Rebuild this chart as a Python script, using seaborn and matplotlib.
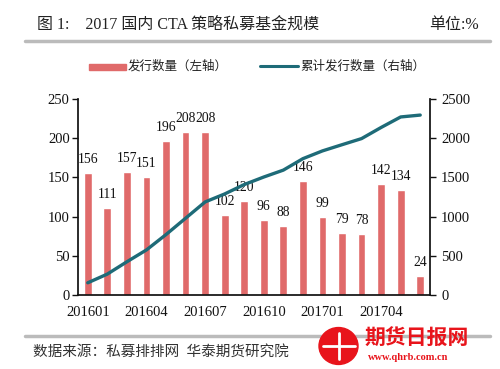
import numpy as np
import pandas as pd
import matplotlib
matplotlib.use("Agg")
import matplotlib.pyplot as plt
import seaborn as sns
from matplotlib.patches import Ellipse, Rectangle

months = ["201601", "201602", "201603", "201604", "201605", "201606",
          "201607", "201608", "201609", "201610", "201611", "201612",
          "201701", "201702", "201703", "201704", "201705", "201706"]
issued = [156, 111, 157, 151, 196, 208, 208, 102, 120, 96, 88, 146,
          99, 79, 78, 142, 134, 24]
cumulative = [156, 267, 424, 575, 771, 979, 1187, 1289, 1409, 1505, 1593,
              1739, 1838, 1917, 1995, 2137, 2271, 2295]
tick_labels = ["201601", "201604", "201607", "201610", "201701", "201704"]
left_ticks = [0, 50, 100, 150, 200, 250]
right_ticks = [0, 500, 1000, 1500, 2000, 2500]

sns.set_theme(style="white")
FAM = ["Liberation Serif", "Noto Sans CJK SC", "DejaVu Sans"]
plt.rcParams["font.family"] = FAM

bar_color = "#E06A6A"
line_color = "#1E6B78"

df = pd.DataFrame({"month": months, "issued": issued,
                   "pos": np.arange(len(months)), "cum": cumulative})

fig = plt.figure(figsize=(5.0, 3.69), dpi=100)
ax = fig.add_axes([0.156, 0.2005, 0.704, 0.5312])

sns.barplot(data=df, x="month", y="issued", color=bar_color, width=0.4,
            saturation=1, ax=ax)
for c in ax.containers:
    ax.bar_label(c, labels=[str(v) for v in issued], padding=5,
                 fontsize=9.8, color="#111111")

ax.set_ylim(0, 250)
ax.set_yticks(left_ticks)
ax.set_xlim(-0.5, len(months) - 0.5)
ax.set_xticks([months.index(t) for t in tick_labels])
ax.set_xticklabels(tick_labels)
ax.set_xlabel("")
ax.set_ylabel("")

ax2 = ax.twinx()
sns.lineplot(data=df, x="pos", y="cum", color=line_color, linewidth=2.4, ax=ax2)
ax2.set_ylim(0, 2500)
ax2.set_yticks(right_ticks)
ax2.set_xlim(-0.5, len(months) - 0.5)
ax2.set_xlabel("")
ax2.set_ylabel("")

for a in (ax, ax2):
    a.spines["top"].set_visible(False)
    a.tick_params(axis="both", labelsize=10.5, colors="#111111")
ax.spines["right"].set_visible(False)
ax.spines["left"].set_color("#111111")
ax.spines["bottom"].set_color("#111111")
ax2.spines["right"].set_color("#111111")
ax2.spines["left"].set_visible(False)
ax2.spines["bottom"].set_visible(False)
ax.tick_params(axis="y", direction="out", length=4, width=1, left=True, pad=2)
ax.tick_params(axis="x", length=0, pad=8)
ax2.tick_params(axis="y", direction="out", length=4, width=1, right=True, pad=4)

# legend
fig.add_artist(Rectangle((0.178, 1 - 70 / 369), 0.074, 0.016, transform=fig.transFigure,
                         color=bar_color))
fig.text(0.256, 1 - 66 / 369, "发行数量（左轴）", fontsize=9, va="center", ha="left",
         color="#222222", family=FAM)
fig.add_artist(plt.Line2D([0.52, 0.595], [1 - 66 / 369, 1 - 66 / 369],
                          transform=fig.transFigure, color=line_color, lw=2.2))
fig.text(0.6, 1 - 66 / 369, "累计发行数量（右轴）", fontsize=9, va="center", ha="left",
         color="#222222", family=FAM)

# title and rules
fig.text(0.074, 1 - 25 / 369, "图 1:    2017 国内 CTA 策略私募基金规模", fontsize=11.5,
         va="center", ha="left", color="#222222", family=FAM)
fig.text(0.958, 1 - 25 / 369, "单位:%", fontsize=11.5, va="center", ha="right",
         color="#222222", family=FAM)
fig.add_artist(plt.Line2D([0.05, 0.98], [1 - 41 / 369, 1 - 41 / 369],
                          transform=fig.transFigure, color="#BBBBBB", lw=2.5))
fig.add_artist(plt.Line2D([0.05, 0.98], [1 - 336 / 369, 1 - 336 / 369],
                          transform=fig.transFigure, color="#BBBBBB", lw=2.5))
fig.text(0.066, 1 - 352 / 369, "数据来源：私募排排网  华泰期货研究院", fontsize=10.5,
         va="center", ha="left", color="#333333", family=FAM)

# watermark logo
fig.add_artist(Ellipse((0.677, 1 - 346 / 369), 0.078, 0.1, transform=fig.transFigure,
                       color="#E8141B", zorder=5))
fig.add_artist(plt.Line2D([0.645, 0.71], [1 - 346 / 369, 1 - 346 / 369],
                          transform=fig.transFigure, color="white", lw=2, zorder=6))
fig.add_artist(plt.Line2D([0.677, 0.677], [1 - 333 / 369, 1 - 359 / 369],
                          transform=fig.transFigure, color="white", lw=2, zorder=6))
fig.text(0.73, 1 - 340 / 369, "期货日报网", fontsize=15, fontweight="bold",
         va="center", ha="left", color="#E8141B", family=FAM, zorder=6)
fig.text(0.735, 1 - 358 / 369, "www.qhrb.com.cn", fontsize=7.5, fontweight="bold",
         va="center", ha="left", color="#E8141B", family=FAM, zorder=6)

fig.savefig("out.png", dpi=100, facecolor="white")
